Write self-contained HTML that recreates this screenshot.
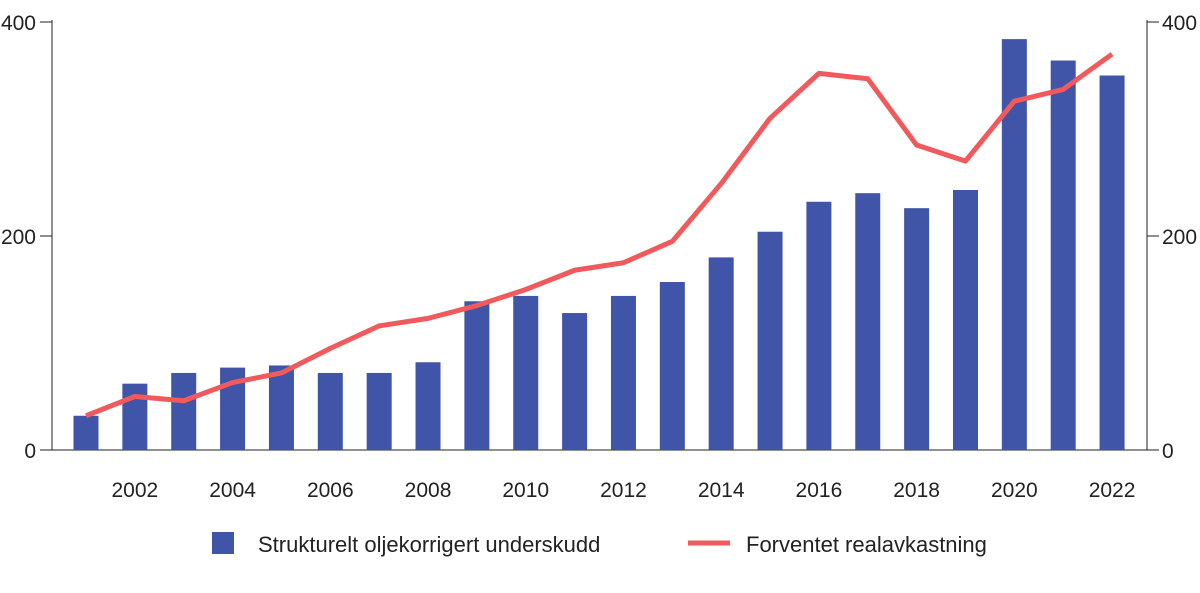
<!DOCTYPE html>
<html><head><meta charset="utf-8"><style>
body{margin:0;background:#fff;}
svg text{font-family:"Liberation Sans",sans-serif;fill:#222;}
</style></head><body>
<svg width="1200" height="588" viewBox="0 0 1200 588">
<g id="axes"></g><g id="bars"></g><g id="line"></g>
<g>
<rect x="212" y="532" width="22" height="22" fill="#4054a8"/>
<text x="258" y="552" font-size="22">Strukturelt oljekorrigert underskudd</text>
<line x1="688" y1="543" x2="730" y2="543" stroke="#f05a5c" stroke-width="5"/>
<text x="746" y="552" font-size="22">Forventet realavkastning</text>
</g>
</svg>
<script>
const years=[2001,2002,2003,2004,2005,2006,2007,2008,2009,2010,2011,2012,2013,2014,2015,2016,2017,2018,2019,2020,2021,2022];
const deficit=[32,62,72,77,79,72,72,82,139,144,128,144,157,180,204,232,240,226,243,384,364,350];
const returns=[32,50,46,63,72,95,116,123,135,150,168,175,195,249,310,352,347,285,270,326,337,370];
const yTicks=[0,200,400];
const xLabels=[2002,2004,2006,2008,2010,2012,2014,2016,2018,2020,2022];
const NS="http://www.w3.org/2000/svg";
const x=yr=>86+(yr-2001)*48.86;
const y=v=>450-v*1.07;
function mk(tag,attrs,parent){const e=document.createElementNS(NS,tag);for(const k in attrs)e.setAttribute(k,attrs[k]);parent.appendChild(e);return e;}
const ax=document.getElementById('axes'),bg=document.getElementById('bars'),lg=document.getElementById('line');
let e;
e=mk('line',{x1:52,y1:20,x2:52,y2:450,stroke:'#222','stroke-width':1},ax);


e=mk('line',{x1:1147,y1:20,x2:1147,y2:450,stroke:'#222','stroke-width':1},ax);


e=mk('line',{x1:52,y1:450,x2:1147,y2:450,stroke:'#222','stroke-width':1},ax);


yTicks.forEach(t=>{
 mk('line',{x1:40,y1:y(t),x2:52,y2:y(t),stroke:'#222'},ax);
 mk('line',{x1:1147,y1:y(t),x2:1159,y2:y(t),stroke:'#222'},ax);
 e=mk('text',{x:36,y:y(t)+8,'font-size':21,'text-anchor':'end'},ax);e.textContent=t;
 
 
 e=mk('text',{x:1162,y:y(t)+8,'font-size':21},ax);e.textContent=t;
 
 
});
xLabels.forEach(t=>{
 e=mk('text',{x:x(t),y:497,'font-size':21,'text-anchor':'middle'},ax);e.textContent=t;
 
 
});
years.forEach((yr,i)=>{
 e=mk('rect',{x:x(yr)-12.5,y:y(deficit[i]),width:25,height:450-y(deficit[i]),fill:'#4054a8'},bg);
 
 
});
e=mk('polyline',{points:years.map((yr,i)=>x(yr)+','+y(returns[i])).join(' '),fill:'none',stroke:'#f05a5c','stroke-width':5,'stroke-linejoin':'round'},lg);


</script>
</body></html>
